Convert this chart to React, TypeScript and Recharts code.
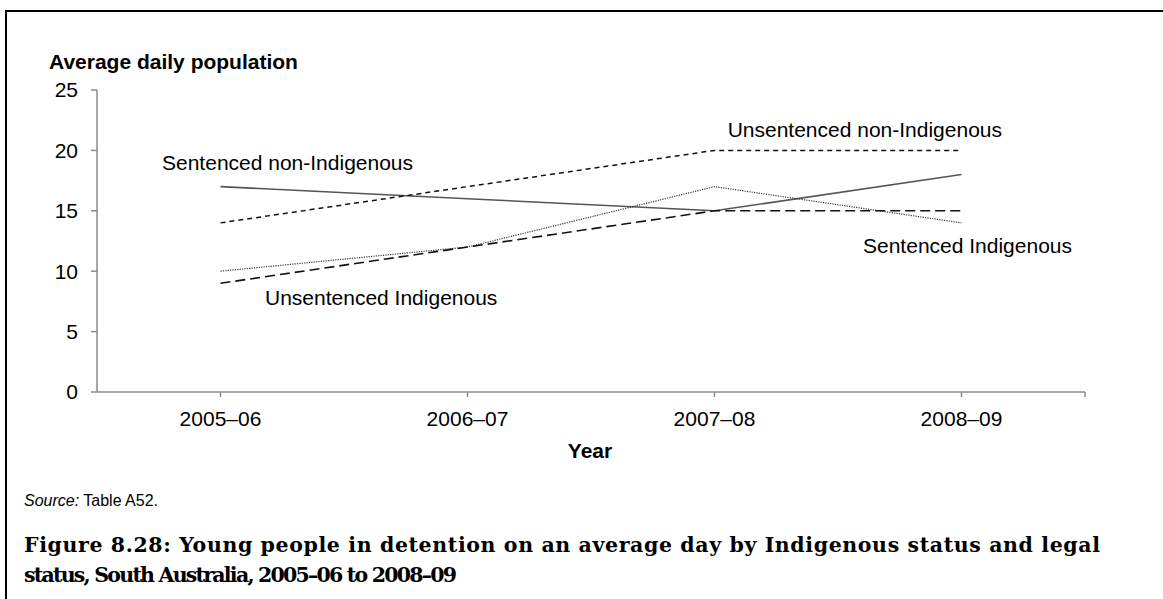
import { JSX } from "react";
import { LineChart, Line, XAxis, YAxis } from "recharts";

const years = ["2005–06", "2006–07", "2007–08", "2008–09"];
const sentencedNonIndigenous = [17, 16, 15, 18];
const unsentencedNonIndigenous = [14, 17, 20, 20];
const sentencedIndigenous = [10, 12, 17, 14];
const unsentencedIndigenous = [9, 12, 15, 15];
const yTicks = [0, 5, 10, 15, 20, 25];

const data = years.map((year, i) => ({
  idx: i,
  year,
  sentNon: sentencedNonIndigenous[i],
  unsentNon: unsentencedNonIndigenous[i],
  sentInd: sentencedIndigenous[i],
  unsentInd: unsentencedIndigenous[i],
}));

const SANS = "'Liberation Sans', Arial, sans-serif";
const SERIF = "'DejaVu Serif', 'Liberation Serif', serif";
const AXIS = "#8c8c8c";

const App = (): JSX.Element => {
  return (
    <div
      style={{
        position: "absolute",
        left: 0,
        top: 0,
        width: 1163,
        height: 599,
        background: "#fff",
        overflow: "hidden",
      }}
    >
      {/* figure box: only top and left edges fall inside the frame */}
      <div
        style={{
          position: "absolute",
          left: 5,
          top: 10,
          width: 1200,
          height: 620,
          borderTop: "2px solid #000",
          borderLeft: "2px solid #000",
        }}
      />
      <div style={{ position: "absolute", left: 0, top: 0 }}>
        <LineChart
          width={1163}
          height={430}
          data={data}
          margin={{ top: 90, right: 78, left: 37, bottom: 8 }}
        >
          <XAxis
            type="number"
            dataKey="idx"
            domain={[-0.5, 3.5]}
            ticks={[0, 1, 2, 3, 3.5]}
            interval={0}
            tickFormatter={(v: number) => years[v] ?? ""}
            height={30}
            stroke={AXIS}
            strokeWidth={1.5}
            tickSize={5}
            tickMargin={14}
            tick={{ fill: "#000", fontSize: 21, fontFamily: SANS }}
          />
          <YAxis
            type="number"
            domain={[0, 25]}
            ticks={yTicks}
            interval={0}
            width={60}
            stroke={AXIS}
            strokeWidth={1.5}
            tickSize={6}
            tickMargin={13}
            tick={{ fill: "#000", fontSize: 21, fontFamily: SANS }}
          />
          <Line
            dataKey="sentNon"
            type="linear"
            stroke="#555"
            strokeWidth={1.6}
            dot={false}
            isAnimationActive={false}
          />
          <Line
            dataKey="unsentNon"
            type="linear"
            stroke="#111"
            strokeWidth={1.5}
            strokeDasharray="5 4"
            dot={false}
            isAnimationActive={false}
          />
          <Line
            dataKey="sentInd"
            type="linear"
            stroke="#333"
            strokeWidth={1.2}
            strokeDasharray="1.2 1.2"
            dot={false}
            isAnimationActive={false}
          />
          <Line
            dataKey="unsentInd"
            type="linear"
            stroke="#111"
            strokeWidth={1.6}
            strokeDasharray="10 5"
            dot={false}
            isAnimationActive={false}
          />
        </LineChart>
      </div>
      <svg
        width={1163}
        height={599}
        style={{ position: "absolute", left: 0, top: 0, pointerEvents: "none" }}
      >
        <g fontFamily={SANS} fontSize={21} fill="#000">
          <text x={49} y={69} fontWeight="bold">
            Average daily population
          </text>
          <text x={162} y={170}>Sentenced non-Indigenous</text>
          <text x={1002} y={137} textAnchor="end">
            Unsentenced non-Indigenous
          </text>
          <text x={863} y={253}>Sentenced Indigenous</text>
          <text x={265} y={305}>Unsentenced Indigenous</text>
          <text x={590} y={458} fontWeight="bold" textAnchor="middle">
            Year
          </text>
        </g>
        <text x={24} y={506} fontFamily={SANS} fontSize={16} fill="#000">
          <tspan fontStyle="italic">Source:</tspan> Table A52.
        </text>
        <g fontFamily={SERIF} fontSize={20.5} fontWeight="bold" fill="#000">
          <text x={24} y={552} textLength={1076} lengthAdjust="spacing">
            Figure 8.28: Young people in detention on an average day by Indigenous status and legal
          </text>
          <text x={24} y={582} textLength={433} lengthAdjust="spacing">
            status, South Australia, 2005–06 to 2008–09
          </text>
        </g>
      </svg>
    </div>
  );
};

export default App;
